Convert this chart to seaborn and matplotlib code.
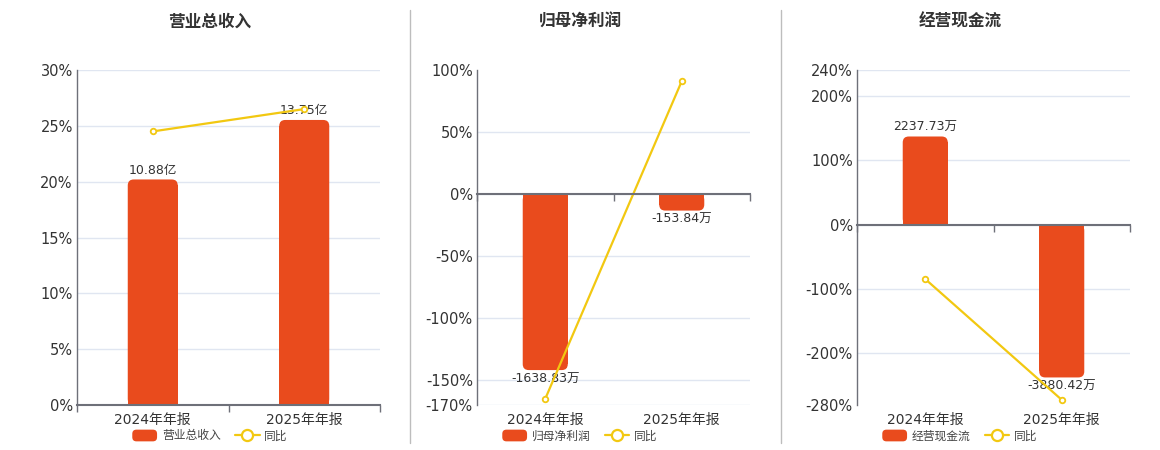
import matplotlib
matplotlib.use('Agg')
import numpy as np
import seaborn as sns
import matplotlib.pyplot as plt
from matplotlib.patches import FancyBboxPatch, Rectangle, Patch
from matplotlib.lines import Line2D
from matplotlib.legend_handler import HandlerPatch

# 数据
categories = ['2024年年报', '2025年年报']

revenue = [10.88, 13.75]            # 亿
revenue_labels = ['10.88亿', '13.75亿']
revenue_yoy = [24.5, 26.5]          # %

profit = [-1638.83, -153.84]        # 万
profit_labels = ['-1638.83万', '-153.84万']
profit_yoy = [-165.0, 91.0]

cashflow = [2237.73, -3880.42]      # 万
cashflow_labels = ['2237.73万', '-3880.42万']
cashflow_yoy = [-84.5, -272.0]

titles = ['营业总收入', '归母净利润', '经营现金流']
pct_ticks = [
    [0, 5, 10, 15, 20, 25, 30],
    [-170, -150, -100, -50, 0, 50, 100],
    [-280, -200, -100, 0, 100, 200, 240],
]

BAR = '#E94B1D'
LINE = '#F2C811'
TEXT = '#333333'
AXIS = '#6E7079'
GRID = '#E0E6F1'

sns.set_theme(style='white')
plt.rcParams['font.family'] = ['DejaVu Sans', 'Noto Sans CJK SC']

panels = [
    dict(values=revenue, labels=revenue_labels, yoy=revenue_yoy, title=titles[0],
         ticks=pct_ticks[0], pct_lim=(0, 30), bar_lim=(0, 16.16),
         rect=[77 / 1160, 0.1, 303 / 1160, 335 / 450], cx=210 / 1160),
    dict(values=profit, labels=profit_labels, yoy=profit_yoy, title=titles[1],
         ticks=pct_ticks[1], pct_lim=(-170, 100), bar_lim=(-1964, 1155),
         rect=[477 / 1160, 0.1, 273 / 1160, 335 / 450], cx=580 / 1160),
    dict(values=cashflow, labels=cashflow_labels, yoy=cashflow_yoy, title=titles[2],
         ticks=pct_ticks[2], pct_lim=(-280, 240), bar_lim=(-4580, 3926),
         rect=[857 / 1160, 0.1, 273 / 1160, 335 / 450], cx=960 / 1160),
]


def rounded_box(legend, orig_handle, xdescent, ydescent, width, height, fontsize):
    return FancyBboxPatch((-xdescent, -ydescent), width, height,
                          boxstyle='round,pad=0,rounding_size=3')


W, H = 1160, 450
fig = plt.figure(figsize=(W / 100, H / 100), dpi=100)

for p in panels:
    ax = fig.add_axes(p['rect'])
    # 柱子（次坐标，隐藏刻度）
    sns.barplot(x=categories, y=p['values'], ax=ax, color=BAR, saturation=1, width=0.33)
    ax.set_xlim(-0.5, 1.5)
    ax.set_ylim(*p['bar_lim'])
    ax.bar_label(ax.containers[0], labels=p['labels'], padding=2, fontsize=9, color=TEXT)

    # 圆角柱
    ax_w = p['rect'][2] * W
    ax_h = p['rect'][3] * H
    ppx_x = ax_w / 2.0
    ppx_y = ax_h / (p['bar_lim'][1] - p['bar_lim'][0])
    rx = 6 / ppx_x
    ry = 6 / ppx_y
    for bar in list(ax.containers[0]):
        x, w, h = bar.get_x(), bar.get_width(), bar.get_height()
        y0 = min(0, h)
        bar.set_visible(False)
        ax.add_patch(FancyBboxPatch((x, y0), w, abs(h),
                                    boxstyle=f'round,pad=0,rounding_size={rx}',
                                    mutation_aspect=ppx_x / ppx_y,
                                    fc=BAR, ec='none', zorder=2))
        if h > 0:
            ax.add_patch(Rectangle((x, 0), w, max(h - ry, 0), fc=BAR, ec='none', zorder=2))
        else:
            ax.add_patch(Rectangle((x, h + ry), w, max(-h - ry, 0), fc=BAR, ec='none', zorder=2))

    ax.set_yticks([t * (p['bar_lim'][1] - p['bar_lim'][0]) / (p['pct_lim'][1] - p['pct_lim'][0])
                   for t in p['ticks']])
    ax.set_ylim(*p['bar_lim'])
    ax.yaxis.grid(True, color=GRID, lw=1)
    ax.xaxis.grid(False)
    ax.set_axisbelow(True)
    for s in ax.spines.values():
        s.set_visible(False)
    ax.set_xlabel('')
    ax.set_ylabel('')

    # 同比折线（主坐标，百分比）
    ax2 = ax.twinx()
    sns.lineplot(x=np.arange(len(categories)), y=p['yoy'], ax=ax2, color=LINE, lw=1.6,
                 marker='o', markersize=4, markerfacecolor='white',
                 markeredgecolor=LINE, markeredgewidth=1.3)
    ax2.set_ylim(*p['pct_lim'])
    ax2.yaxis.tick_left()
    ax2.set_yticks(p['ticks'])
    ax2.set_yticklabels([f'{t}%' for t in p['ticks']])
    ax2.tick_params(axis='y', which='both', left=False, right=False, length=0, pad=3,
                    labelsize=10.5, labelcolor=TEXT)
    ax2.grid(False)
    for k, s in ax2.spines.items():
        s.set_visible(k == 'left')
    ax2.spines['left'].set_color(AXIS)
    ax2.spines['left'].set_linewidth(1)
    ax2.set_xlabel('')
    ax2.set_ylabel('')
    ax.set_xlim(-0.5, 1.5)

    # 零轴线及分隔刻度
    ax3 = ax.twiny()
    ax3.set_xlim(-0.5, 1.5)
    ax3.xaxis.set_ticks_position('bottom')
    for k, s in ax3.spines.items():
        s.set_visible(k == 'bottom')
    ax3.spines['bottom'].set_position(('data', 0))
    ax3.spines['bottom'].set_color(AXIS)
    ax3.spines['bottom'].set_linewidth(1.5)
    ax3.set_xticks([-0.5, 0.5, 1.5])
    ax3.set_xticklabels([])
    ax3.tick_params(axis='x', length=5, width=1, color=AXIS, direction='out')
    ax3.grid(False)

    # twinx/twiny 会重新打开原轴的刻度，这里再关掉
    ax.tick_params(axis='y', which='both', left=False, right=False, labelleft=False, labelright=False)
    ax.tick_params(axis='x', which='both', bottom=False, top=False, length=0, pad=6,
                   labelsize=10, labelcolor=TEXT)

    fig.text(p['cx'], 1 - 22 / H, p['title'], ha='center', va='center',
             fontsize=12, fontweight='bold', color=TEXT,
             family=['Noto Sans CJK SC', 'DejaVu Sans'])

    handles = [Patch(fc=BAR, ec='none'),
               Line2D([], [], color=LINE, lw=1.6, marker='o', markersize=8,
                      markerfacecolor='white', markeredgecolor=LINE, markeredgewidth=1.6)]
    fig.legend(handles, [p['title'], '同比'], loc='center', bbox_to_anchor=(p['cx'], 1 - 436 / H),
               ncol=2, frameon=False, fontsize=8.5, handlelength=2.1, handleheight=1.15,
               handletextpad=0.4, columnspacing=1.2, labelcolor='#444444',
               handler_map={Patch: HandlerPatch(patch_func=rounded_box)})

for xd in [410, 781]:
    fig.add_artist(Line2D([xd / W, xd / W], [1 - 443 / H, 1 - 10 / H], color='#BDBDBD', lw=1))

fig.savefig('out.png', dpi=100)
